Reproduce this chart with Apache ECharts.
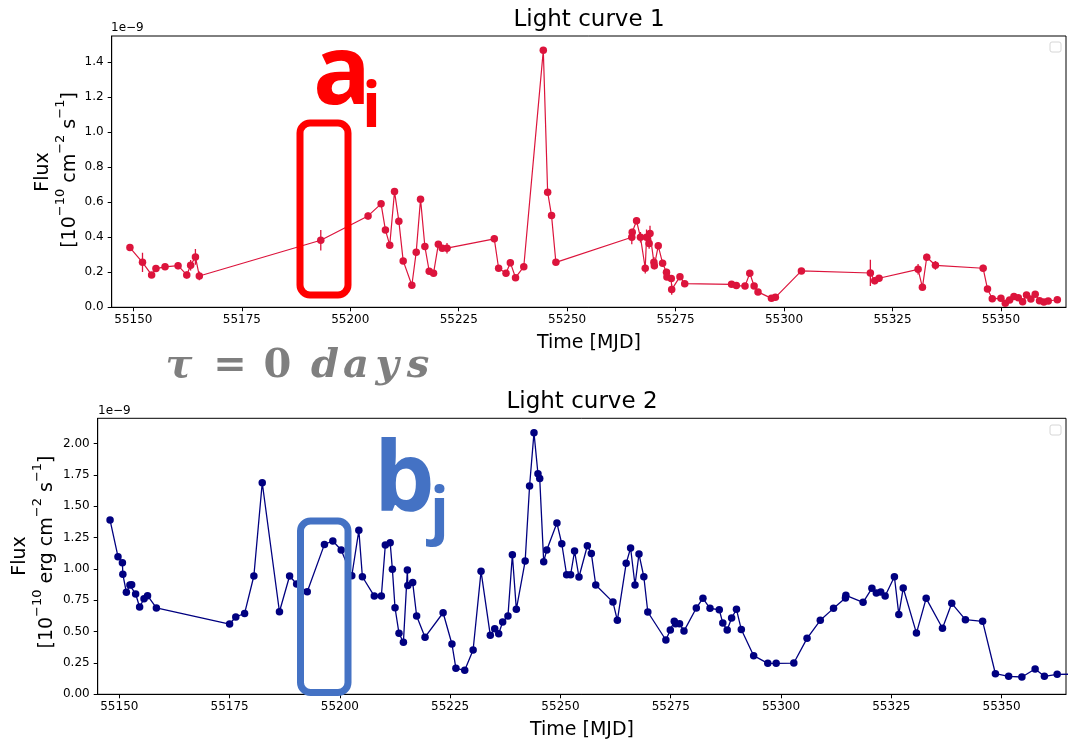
<!DOCTYPE html>
<html>
<head>
<meta charset="utf-8">
<script src="https://cdn.jsdelivr.net/npm/echarts@6/dist/echarts.min.js"></script>
<style>
html,body{margin:0;padding:0;background:#fff;}
#chart{width:1068px;height:743px;}
</style>
</head>
<body>
<div id="chart"></div>
<script>
// ---------- DATA (flux in units of 1e-9) ----------
const t1 = [
  55149.2, 55152.1, 55154.2, 55155.2, 55157.3, 55160.3, 55162.3, 55163.2, 55164.3, 55165.2,
  55193.2, 55204.1, 55207.1, 55208.1, 55209.1, 55210.2, 55211.2, 55212.2, 55214.2, 55215.2,
  55216.2, 55217.2, 55218.2, 55219.2, 55220.3, 55221.2, 55222.3,
  55233.2, 55234.2, 55235.9, 55236.9, 55238.1, 55240.0, 55244.5, 55245.5, 55246.4, 55247.4,
  55264.9, 55265.0, 55266.0, 55266.9, 55268.0, 55268.3, 55268.9, 55269.1, 55270.0, 55270.1,
  55271.0, 55272.0, 55272.9, 55273.0, 55274.0, 55274.1, 55276.0, 55277.1,
  55287.9, 55289.0, 55291.0, 55292.1, 55293.1, 55294.0, 55297.1, 55298.0, 55304.0,
  55319.9, 55320.9, 55321.9, 55330.9, 55331.9, 55332.9, 55334.9, 55345.9, 55346.9, 55348.0,
  55350.0, 55351.0, 55352.0, 55353.0, 55354.0, 55355.0, 55355.9, 55356.9, 55357.9, 55358.9,
  55359.9, 55360.9, 55363.0
];
const flux1 = [
  0.341, 0.257, 0.185, 0.221, 0.231, 0.238, 0.185, 0.240, 0.288, 0.179,
  0.383, 0.522, 0.591, 0.442, 0.355, 0.661, 0.492, 0.265, 0.126, 0.315,
  0.618, 0.347, 0.206, 0.195, 0.360, 0.338, 0.338,
  0.391, 0.223, 0.195, 0.255, 0.169, 0.232, 1.468, 0.658, 0.524, 0.257,
  0.400, 0.429, 0.494, 0.400, 0.223, 0.400, 0.364, 0.421, 0.257, 0.238,
  0.351, 0.252, 0.200, 0.173, 0.164, 0.101, 0.175, 0.135,
  0.131, 0.124, 0.121, 0.195, 0.122, 0.088, 0.051, 0.057, 0.208,
  0.196, 0.152, 0.166, 0.217, 0.114, 0.286, 0.240, 0.223, 0.105, 0.049,
  0.051, 0.023, 0.042, 0.061, 0.055, 0.032, 0.070, 0.047, 0.074, 0.038,
  0.030, 0.036, 0.043
];
const err1 = [
  0.015, 0.055, 0.015, 0.015, 0.015, 0.020, 0.020, 0.030, 0.045, 0.025,
  0.058, 0.020, 0.015, 0.015, 0.015, 0.015, 0.015, 0.015, 0.015, 0.015,
  0.015, 0.015, 0.015, 0.015, 0.015, 0.015, 0.030,
  0.020, 0.015, 0.015, 0.020, 0.015, 0.015, 0.010, 0.015, 0.015, 0.015,
  0.040, 0.020, 0.020, 0.030, 0.030, 0.045, 0.030, 0.045, 0.030, 0.020,
  0.020, 0.020, 0.020, 0.015, 0.020, 0.030, 0.015, 0.015,
  0.010, 0.010, 0.010, 0.010, 0.010, 0.010, 0.010, 0.010, 0.010,
  0.075, 0.020, 0.015, 0.030, 0.015, 0.020, 0.025, 0.020, 0.015, 0.010,
  0.010, 0.010, 0.010, 0.010, 0.010, 0.010, 0.010, 0.010, 0.010, 0.010,
  0.010, 0.010, 0.010
];
const t2 = [
  55147.9, 55149.7, 55150.7, 55150.8, 55151.6, 55152.4, 55152.8, 55153.7, 55154.6, 55155.6, 55156.4, 55158.4,
  55175.0, 55176.4, 55178.4, 55180.5, 55182.4, 55186.3, 55188.6, 55190.2, 55192.6, 55196.5,
  55198.4, 55200.3, 55202.7, 55204.3, 55205.1, 55207.8, 55209.4, 55210.3, 55211.4, 55211.9,
  55212.5, 55213.4, 55214.4, 55215.3, 55215.4, 55216.5, 55217.4, 55219.3,
  55223.4, 55225.4, 55226.3, 55228.3, 55230.2, 55232.0, 55234.1, 55235.1, 55236.0, 55236.9,
  55238.1, 55239.1, 55240.0, 55242.0, 55243.0, 55244.0, 55244.9, 55245.3, 55246.2, 55246.9,
  55249.2, 55250.3, 55251.4, 55252.3, 55253.2, 55254.2, 55256.1, 55257.0, 55258.0, 55261.9,
  55262.9, 55264.9, 55265.9, 55266.9, 55267.8, 55268.9, 55269.8, 55273.9, 55274.9, 55275.8,
  55276.1, 55277.0, 55278.0, 55280.8, 55282.3, 55283.9, 55286.0, 55286.8, 55287.8, 55288.8,
  55289.9, 55291.0,
  55293.8, 55297.0, 55298.9, 55302.9, 55305.9, 55308.9, 55311.9, 55314.6, 55314.7, 55318.6,
  55320.6, 55321.6, 55322.6, 55323.6, 55325.7, 55326.7, 55327.7, 55330.7, 55332.9, 55336.6,
  55338.7, 55341.8, 55345.7, 55348.6, 55351.6, 55354.6, 55357.6, 55359.7, 55362.6, 55366.0
];
const flux2 = [
  1.389, 1.097, 1.049, 0.956, 0.813, 0.871, 0.873, 0.799, 0.696, 0.762, 0.786, 0.688,
  0.560, 0.616, 0.645, 0.943, 1.686, 0.658, 0.943, 0.879, 0.818, 1.195,
  1.222, 1.150, 0.945, 1.307, 0.937, 0.783, 0.783, 1.190, 1.208, 0.996,
  0.690, 0.486, 0.414, 0.990, 0.868, 0.892, 0.624, 0.455,
  0.650, 0.401, 0.207, 0.191, 0.353, 0.980, 0.470, 0.523, 0.483, 0.576,
  0.624, 1.112, 0.677, 1.062, 1.660, 2.085, 1.758, 1.721, 1.057, 1.150,
  1.365, 1.200, 0.953, 0.953, 1.142, 0.935, 1.184, 1.123, 0.871, 0.735,
  0.590, 1.044, 1.166, 0.871, 1.118, 0.937, 0.656, 0.433, 0.512, 0.582,
  0.563, 0.563, 0.504, 0.688, 0.765, 0.685, 0.674, 0.568, 0.512, 0.608,
  0.677, 0.516,
  0.308, 0.247, 0.247, 0.249, 0.446, 0.590, 0.685, 0.768, 0.789, 0.733,
  0.845, 0.807, 0.815, 0.783, 0.937, 0.637, 0.847, 0.488, 0.765, 0.526,
  0.725, 0.595, 0.582, 0.164, 0.143, 0.138, 0.202, 0.143, 0.159, 0.160
];
const xTicks = [55150, 55175, 55200, 55225, 55250, 55275, 55300, 55325, 55350];
const yTicks1 = [0.0, 0.2, 0.4, 0.6, 0.8, 1.0, 1.2, 1.4];
const yTicks2 = [0.00, 0.25, 0.50, 0.75, 1.00, 1.25, 1.50, 1.75, 2.00];

// ---------- CHART ----------
const FONT = 'DejaVu Sans';
const pts1 = t1.map((t, i) => [t, flux1[i]]);
const errData1 = t1.map((t, i) => [t, flux1[i], err1[i]]);
const pts2 = t2.map((t, i) => [t, flux2[i]]);

function xAxisCfg(gridIndex, min, max) {
  return {
    type: 'value', gridIndex, min, max,
    axisLine: {show: true, onZero: false, lineStyle: {color: '#000', width: 1}},
    axisTick: {show: true, length: 4, inside: false, customValues: xTicks, lineStyle: {color: '#000'}},
    axisLabel: {customValues: xTicks, color: '#000', fontFamily: FONT, fontSize: 12, margin: 7,
      formatter: v => String(Math.round(v))},
    splitLine: {show: false}
  };
}
function yAxisCfg(gridIndex, max, ticks, dec) {
  return {
    type: 'value', gridIndex, min: 0, max,
    axisLine: {show: true, onZero: false, lineStyle: {color: '#000', width: 1}},
    axisTick: {show: true, length: 4, inside: false, customValues: ticks, lineStyle: {color: '#000'}},
    axisLabel: {customValues: ticks, color: '#000', fontFamily: FONT, fontSize: 12, margin: 8,
      formatter: v => v.toFixed(dec)},
    splitLine: {show: false}
  };
}

const supStyle = {fontFamily: FONT, fontSize: 13, lineHeight: 14, verticalAlign: 'top', fill: '#000'};
const nStyle = {fontFamily: FONT, fontSize: 19, lineHeight: 26, verticalAlign: 'bottom', fill: '#000'};

function txt(text, x, y, opts) {
  return Object.assign({type: 'text', x, y, silent: true, z: 100,
    style: Object.assign({text, fill: '#000', fontFamily: FONT, fontSize: 19, align: 'center', verticalAlign: 'middle'}, opts || {})});
}
const TAU = {fontFamily: 'DejaVu Serif', fontWeight: 'bold', fontStyle: 'italic', fontSize: 40, fill: '#7f7f7f'};
const TAU_UP = {fontFamily: 'DejaVu Serif', fontWeight: 'bold', fontSize: 40, fill: '#7f7f7f'};

const graphic = [
  // titles
  txt('Light curve 1', 589, 20.5, {fontSize: 23}),
  txt('Light curve 2', 582, 402, {fontSize: 23}),
  // x axis names
  txt('Time [MJD]', 589, 343.5, {fontSize: 19}),
  txt('Time [MJD]', 582, 730.5, {fontSize: 19}),
  // offset texts
  txt('1e\u22129', 111, 28, {fontSize: 12, align: 'left'}),
  txt('1e\u22129', 98, 411, {fontSize: 12, align: 'left'}),
  // y axis names (rotated)
  {type: 'text', x: 43, y: 172, rotation: Math.PI / 2, silent: true, z: 100,
    style: {text: 'Flux', fill: '#000', fontFamily: FONT, fontSize: 19, align: 'center', verticalAlign: 'middle'}},
  {type: 'text', x: 67, y: 170, rotation: Math.PI / 2, silent: true, z: 100,
    style: {text: '{n|[10}{s|\u221210}{n| cm}{s|\u22122}{n| s}{s|\u22121}{n|]}', align: 'center', verticalAlign: 'middle',
      rich: {n: nStyle, s: supStyle}}},
  {type: 'text', x: 20, y: 556, rotation: Math.PI / 2, silent: true, z: 100,
    style: {text: 'Flux', fill: '#000', fontFamily: FONT, fontSize: 19, align: 'center', verticalAlign: 'middle'}},
  {type: 'text', x: 44, y: 552, rotation: Math.PI / 2, silent: true, z: 100,
    style: {text: '{n|[10}{s|\u221210}{n| erg cm}{s|\u22122}{n| s}{s|\u22121}{n|]}', align: 'center', verticalAlign: 'middle',
      rich: {n: nStyle, s: supStyle}}},
  // empty legend boxes
  {type: 'rect', shape: {x: 1050, y: 42, width: 11, height: 10, r: 2}, style: {fill: '#fff', stroke: '#d6d6d6', lineWidth: 1}, z: 100, silent: true},
  {type: 'rect', shape: {x: 1050, y: 425, width: 11, height: 10, r: 2}, style: {fill: '#fff', stroke: '#d6d6d6', lineWidth: 1}, z: 100, silent: true},
  // annotation boxes
  {type: 'rect', shape: {x: 300, y: 123, width: 48, height: 172, r: 10}, style: {fill: 'none', stroke: '#FF0000', lineWidth: 7}, z: 120, silent: true},
  {type: 'rect', shape: {x: 300.5, y: 521, width: 47.5, height: 171.5, r: 10}, style: {fill: 'none', stroke: '#4472C4', lineWidth: 7}, z: 120, silent: true},
  // annotation letters
  txt('a', 313, 77, {fontFamily: 'Open Sans', fontWeight: 'bold', fontSize: 96, fill: '#FF0000', align: 'left'}),
  txt('i', 362, 109, {fontFamily: 'Open Sans', fontWeight: 'bold', fontSize: 62, fill: '#FF0000', align: 'left'}),
  txt('b', 374, 484, {fontFamily: 'Open Sans', fontWeight: 'bold', fontSize: 96, fill: '#4472C4', align: 'left'}),
  txt('j', 430, 514, {fontFamily: 'Open Sans', fontWeight: 'bold', fontSize: 62, fill: '#4472C4', align: 'left'}),
  // tau = 0 days
  txt('\u03c4', 179, 366.5, TAU),
  txt('=', 230, 366.5, TAU_UP),
  txt('0', 277.5, 366.5, TAU_UP),
  txt('d', 325, 366.5, TAU),
  txt('a', 356, 366.5, TAU),
  txt('y', 387, 366.5, TAU),
  txt('s', 418, 366.5, TAU)
];

const option = {
  animation: false,
  backgroundColor: '#fff',
  grid: [
    {left: 111.7, right: 2, top: 36, bottom: 743 - 307.3, show: true, borderColor: '#000', borderWidth: 1, outerBoundsMode: 'none', containLabel: false},
    {left: 97.7, right: 2, top: 418.3, bottom: 743 - 694.3, show: true, borderColor: '#000', borderWidth: 1, outerBoundsMode: 'none', containLabel: false}
  ],
  xAxis: [xAxisCfg(0, 55145, 55365), xAxisCfg(1, 55145.1, 55364.6)],
  yAxis: [yAxisCfg(0, 1.55, yTicks1, 1), yAxisCfg(1, 2.2, yTicks2, 2)],
  series: [
    {
      type: 'custom', xAxisIndex: 0, yAxisIndex: 0, data: errData1, clip: true, z: 2,
      encode: {x: 0, y: 1},
      renderItem: (params, api) => {
        const x = api.value(0), y = api.value(1), e = api.value(2);
        const p1 = api.coord([x, y - e]), p2 = api.coord([x, y + e]);
        return {type: 'line', shape: {x1: p1[0], y1: p1[1], x2: p2[0], y2: p2[1]},
          style: {stroke: '#DC143C', lineWidth: 1.3}};
      }
    },
    {
      type: 'line', xAxisIndex: 0, yAxisIndex: 0, data: pts1, z: 3, clip: true,
      symbol: 'circle', symbolSize: 7.5, showAllSymbol: true,
      lineStyle: {color: '#DC143C', width: 1.2},
      itemStyle: {color: '#DC143C', borderWidth: 0}
    },
    {
      type: 'line', xAxisIndex: 1, yAxisIndex: 1, data: pts2, z: 3, clip: true,
      symbol: 'circle', symbolSize: 7.5, showAllSymbol: true,
      lineStyle: {color: '#000080', width: 1.3},
      itemStyle: {color: '#000080', borderWidth: 0}
    }
  ],
  graphic
};

const chart = echarts.init(document.getElementById('chart'), null, {renderer: 'canvas'});
chart.setOption(option);
</script>
</body>
</html>
